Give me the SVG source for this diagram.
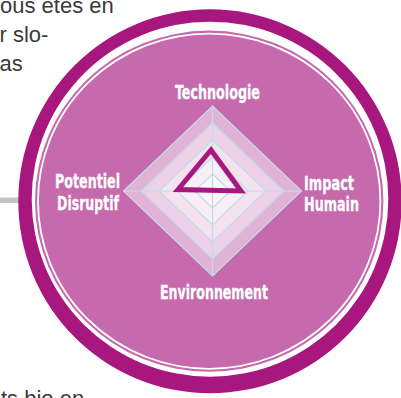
<svg xmlns="http://www.w3.org/2000/svg" width="401" height="398" viewBox="0 0 401 398">
  <style>
    .body { font-family: "Liberation Sans", Arial, sans-serif; font-size: 22px; fill: #3a3a3a; }
    .lbl { font-family: "DejaVu Sans Condensed", "DejaVu Sans", "Liberation Sans", sans-serif; font-weight: bold; font-size: 20px; fill: #ffffff; stroke: #ffffff; stroke-width: 0.3; }
    .grid { fill: none; stroke: #c2dbeb; stroke-width: 1.2; }
  </style>
  <rect width="401" height="398" fill="#ffffff"/>

  <g id="paragraph-text">
    <text class="body" x="0" y="12.5">ous êtes en</text>
    <text class="body" x="-0.5" y="41.5">r slo-</text>
    <text class="body" x="-0.5" y="71">as</text>
    <text class="body" x="1" y="406">ts bio en</text>
  </g>

  <g id="connectors">
    <line x1="0" y1="200.3" x2="26" y2="200.3" stroke="#c3c3c3" stroke-width="5.5"/>
  </g>

  <g id="ring">
    <path fill="#a8177e" fill-rule="evenodd" d="M18.3,201.3 a191.7,192 0 1,0 383.4,0 a191.7,192 0 1,0 -383.4,0 Z M31.7,199.2 a178.3,177.5 0 1,0 356.6,0 a178.3,177.5 0 1,0 -356.6,0 Z"/>
    <ellipse cx="209.2" cy="201.2" rx="174.2" ry="170.6" fill="#c76aad"/>
    <ellipse cx="209.2" cy="201.2" rx="171.2" ry="167.6" fill="none" stroke="#ffffff" stroke-width="1.8"/>
  </g>

  <g id="radar">
    <polygon points="212.5,106 301.5,191 212.5,276 123.5,191" fill="#e0b3d6"/>
    <polygon points="212.5,123 283.7,191 212.5,259 141.3,191" fill="#edd1e7"/>
    <polygon points="212.5,140 265.9,191 212.5,242 159.1,191" fill="#f4e2ef"/>
    <polygon points="212.5,157 248.1,191 212.5,225 176.9,191" fill="#f8eef6"/>
    <polygon points="212.5,174 230.3,191 212.5,208 194.7,191" fill="#fcf7fb"/>
    <polygon class="grid" points="212.5,106 301.5,191 212.5,276 123.5,191"/>
    <polygon class="grid" points="212.5,123 283.7,191 212.5,259 141.3,191"/>
    <polygon class="grid" points="212.5,140 265.9,191 212.5,242 159.1,191"/>
    <polygon class="grid" points="212.5,157 248.1,191 212.5,225 176.9,191"/>
    <polygon class="grid" points="212.5,174 230.3,191 212.5,208 194.7,191"/>
    <line class="grid" x1="212.5" y1="106" x2="212.5" y2="276"/>
    <line class="grid" x1="123.5" y1="191" x2="301.5" y2="191"/>
    <polygon points="211,150 178,189.5 241,191" fill="none" stroke="#a8177e" stroke-width="5" stroke-linejoin="miter"/>
  </g>

  <g id="label-technologie">
    <text class="lbl" x="175" y="98.5" textLength="85" lengthAdjust="spacingAndGlyphs">Technologie</text>
  </g>
  <g id="label-potentiel-disruptif">
    <text class="lbl" x="55" y="188" textLength="65" lengthAdjust="spacingAndGlyphs">Potentiel</text>
    <text class="lbl" x="57" y="209.5" textLength="62" lengthAdjust="spacingAndGlyphs">Disruptif</text>
  </g>
  <g id="label-impact-humain">
    <text class="lbl" x="304" y="189.5" textLength="50" lengthAdjust="spacingAndGlyphs">Impact</text>
    <text class="lbl" x="304" y="211" textLength="55" lengthAdjust="spacingAndGlyphs">Humain</text>
  </g>
  <g id="label-environnement">
    <text class="lbl" x="160" y="299" textLength="108" lengthAdjust="spacingAndGlyphs">Environnement</text>
  </g>
</svg>
